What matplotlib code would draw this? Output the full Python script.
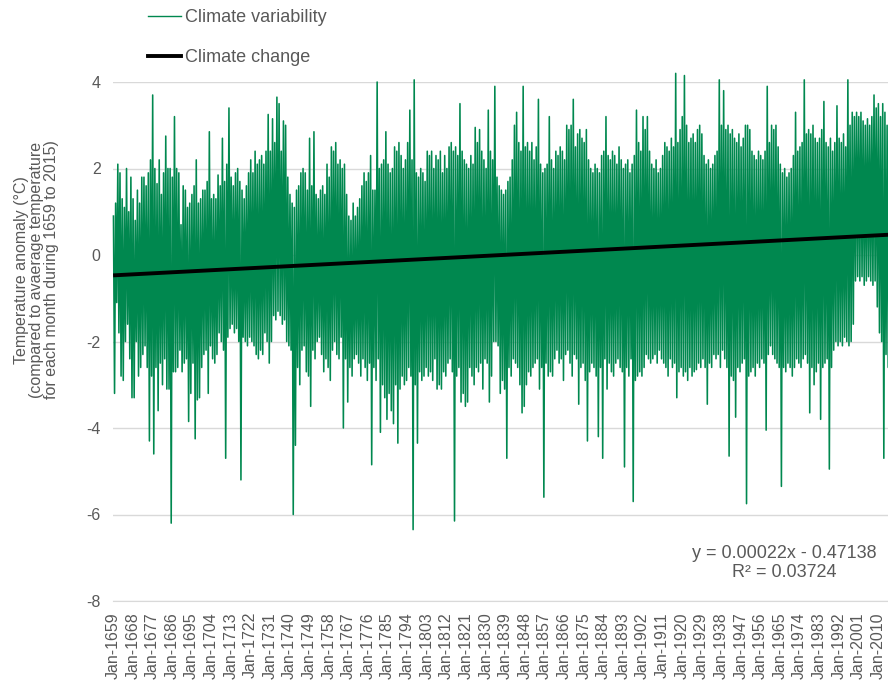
"""Monthly temperature anomaly 1659-2015 (climate variability) with the linear trend (climate change)."""
import numpy as np
import matplotlib.pyplot as plt
from matplotlib.lines import Line2D

plt.rcParams['font.family'] = ['Liberation Sans', 'DejaVu Sans']
plt.rcParams['axes.unicode_minus'] = False

first_year = 1659
last_year = 2015

# upper / lower extremes of the monthly anomaly in each year (deg C)
# one row per 9 years (= one x tick label)
year_high = [
    0.9, 1.2, 2.1, 1.9, 1.3, 1.1, 2.0, 1.0, 1.8,      # 1659
    1.3, 0.8, 1.5, 1.2, 1.8, 1.8, 1.6, 1.9, 2.2,      # 1668
    3.7, 2.0, 1.65, 2.2, 1.4, 1.9, 2.75, 2.0, 2.0,    # 1677
    1.8, 3.2, 2.0, 1.9, 0.7, 1.6, 1.5, 1.1, 1.2,      # 1686
    1.4, 1.6, 2.2, 1.2, 1.3, 1.5, 1.5, 1.7, 2.85,     # 1695
    1.3, 1.4, 1.3, 1.85, 1.6, 2.7, 1.7, 2.1, 3.4,     # 1704
    1.8, 1.6, 1.9, 2.0, 1.7, 1.5, 1.3, 1.6, 1.9,      # 1713
    2.2, 1.9, 2.4, 2.1, 2.2, 2.3, 2.1, 2.4, 3.25,     # 1722
    2.4, 3.15, 2.6, 3.65, 3.5, 2.4, 3.1, 3.0, 1.8,    # 1731
    1.4, 1.2, 1.1, 1.5, 1.6, 1.9, 2.0, 1.9, 1.5,      # 1740
    2.7, 1.6, 2.85, 1.4, 1.3, 1.5, 1.6, 1.4, 2.1,     # 1749
    1.8, 2.5, 2.4, 2.6, 2.1, 2.2, 2.0, 2.1, 1.4,      # 1758
    0.9, 0.8, 1.2, 0.9, 1.1, 1.3, 1.6, 1.9, 1.7,      # 1767
    1.9, 2.3, 1.5, 1.5, 4.0, 2.0, 2.1, 2.2, 2.85,     # 1776
    2.1, 1.9, 2.0, 2.5, 2.4, 2.6, 2.3, 2.0, 2.2,      # 1785
    2.6, 3.35, 2.2, 4.05, 1.9, 1.8, 2.0, 1.9, 1.7,    # 1794
    2.4, 2.3, 2.4, 2.0, 2.3, 2.2, 2.4, 1.9, 2.3,      # 1803
    2.0, 2.5, 2.6, 2.4, 2.5, 2.3, 3.5, 2.4, 2.2,      # 1812
    2.1, 2.0, 2.3, 2.1, 2.95, 2.6, 2.9, 2.4, 2.2,     # 1821
    2.0, 3.35, 2.4, 2.2, 3.9, 1.8, 1.6, 1.5, 1.4,     # 1830
    1.5, 1.7, 1.8, 2.2, 3.0, 3.3, 2.6, 2.4, 3.9,      # 1839
    2.5, 2.6, 2.4, 2.6, 2.2, 2.5, 3.6, 2.1, 1.9,      # 1848
    2.0, 2.1, 3.2, 2.2, 2.0, 2.4, 2.3, 2.5, 2.4,      # 1857
    2.2, 3.0, 2.9, 3.0, 3.6, 2.5, 2.8, 2.9, 2.7,      # 1866
    2.6, 2.9, 2.2, 2.0, 1.9, 2.1, 2.0, 1.9, 2.3,      # 1875
    2.4, 3.2, 2.3, 2.2, 2.4, 2.3, 2.1, 2.5, 2.2,      # 1884
    2.0, 2.1, 2.2, 1.9, 2.1, 2.3, 3.35, 2.6, 2.4,     # 1893
    3.2, 2.9, 3.2, 2.4, 2.1, 2.0, 2.2, 1.9, 2.0,      # 1902
    2.3, 2.6, 2.5, 2.4, 2.7, 2.5, 4.2, 2.6, 2.9,      # 1911
    3.2, 4.15, 3.0, 2.6, 2.7, 2.8, 2.6, 2.9, 3.0,     # 1920
    2.8, 2.3, 2.1, 2.2, 2.0, 2.1, 2.3, 2.4, 4.05,     # 1929
    3.0, 3.8, 2.9, 3.0, 2.8, 2.9, 2.7, 2.6, 2.8,      # 1938
    2.5, 2.7, 3.0, 3.0, 2.9, 2.4, 2.3, 2.2, 2.4,      # 1947
    2.3, 2.2, 2.4, 3.9, 2.6, 3.0, 2.9, 3.0, 2.5,      # 1956
    2.1, 1.9, 2.0, 1.8, 1.9, 2.0, 2.3, 3.3, 2.4,      # 1965
    2.5, 2.6, 4.05, 2.8, 2.9, 2.8, 3.0, 2.7, 2.6,     # 1974
    2.7, 2.9, 3.55, 2.6, 2.5, 2.7, 2.4, 2.6, 3.45,    # 1983
    2.7, 2.6, 2.8, 2.5, 4.05, 3.0, 3.3, 3.2, 3.3,     # 1992
    3.2, 3.3, 3.1, 3.0, 3.15, 3.0, 3.2, 3.7, 3.4,     # 2001
    3.5, 3.2, 3.5, 3.3, 3.0, 3.1,                     # 2010
]
year_low = [
    -3.2, -1.1, -1.8, -2.8, -2.9, -2.0, -1.6, -2.4, -3.3,     # 1659
    -3.3, -2.0, -2.8, -2.6, -2.3, -2.1, -2.6, -4.3, -2.8,     # 1668
    -4.6, -2.6, -3.6, -2.5, -3.0, -2.4, -3.1, -3.1, -6.2,     # 1677
    -2.7, -2.7, -2.6, -2.2, -2.7, -2.5, -2.4, -3.85, -3.2,    # 1686
    -2.5, -4.25, -3.35, -3.3, -2.6, -2.3, -2.2, -3.2, -2.1,   # 1695
    -2.4, -2.5, -2.3, -1.8, -2.0, -2.2, -4.7, -1.9, -1.7,     # 1704
    -1.6, -1.8, -1.7, -2.0, -5.2, -1.9, -2.0, -2.1, -1.9,     # 1713
    -2.0, -2.1, -2.3, -2.4, -2.2, -2.3, -1.8, -2.0, -2.5,     # 1722
    -2.0, -1.4, -1.5, -1.3, -1.4, -1.6, -1.5, -2.0, -2.1,     # 1731
    -2.2, -6.0, -4.4, -2.6, -3.0, -2.2, -2.1, -2.7, -2.8,     # 1740
    -3.5, -2.2, -2.4, -2.0, -1.9, -2.3, -2.7, -2.4, -2.6,     # 1749
    -2.9, -2.2, -2.0, -2.3, -2.4, -1.9, -4.0, -2.4, -3.4,     # 1758
    -2.6, -2.8, -2.4, -2.3, -2.5, -2.8, -2.4, -2.6, -2.9,     # 1767
    -2.5, -4.85, -2.6, -2.9, -2.4, -4.1, -3.0, -3.3, -3.8,    # 1776
    -3.2, -3.6, -3.9, -3.0, -4.35, -3.1, -2.8, -3.0, -2.9,    # 1785
    -2.6, -2.8, -6.35, -3.0, -4.35, -2.7, -2.9, -2.8, -2.6,   # 1794
    -2.8, -2.7, -2.9, -2.4, -3.1, -3.0, -3.1, -2.7, -2.8,     # 1803
    -2.5, -2.4, -2.7, -6.15, -2.8, -2.6, -3.4, -3.2, -3.5,    # 1812
    -3.4, -2.6, -2.8, -3.0, -2.6, -2.7, -2.5, -3.1, -2.4,     # 1821
    -2.5, -3.4, -2.8, -2.0, -2.0, -2.1, -3.2, -2.9, -3.1,     # 1830
    -4.7, -2.6, -2.8, -2.4, -2.5, -2.6, -3.0, -3.65, -3.5,    # 1839
    -3.0, -2.7, -2.8, -2.6, -2.5, -2.4, -3.1, -2.6, -5.6,     # 1848
    -2.5, -2.8, -2.7, -2.8, -2.4, -2.2, -2.5, -2.4, -2.9,     # 1857
    -2.3, -2.2, -2.5, -2.8, -2.3, -2.4, -3.45, -2.6, -2.5,    # 1866
    -2.9, -4.3, -2.7, -2.5, -2.6, -2.8, -4.2, -2.6, -4.7,     # 1875
    -2.4, -3.1, -2.5, -2.7, -2.8, -2.5, -2.4, -2.6, -2.7,     # 1884
    -4.9, -2.6, -2.8, -2.4, -5.7, -2.9, -2.8, -2.7, -2.8,     # 1893
    -2.6, -2.3, -2.4, -2.5, -2.4, -2.3, -2.5, -2.2, -2.4,     # 1902
    -2.5, -2.6, -2.8, -2.4, -2.6, -2.5, -3.3, -2.7, -2.6,     # 1911
    -2.8, -2.7, -2.9, -2.6, -2.8, -2.7, -2.65, -2.5, -2.6,    # 1920
    -2.4, -2.6, -3.45, -2.5, -2.6, -2.3, -2.4, -2.3, -2.6,    # 1929
    -2.2, -2.4, -2.6, -4.65, -2.8, -2.9, -3.75, -2.6, -2.7,   # 1938
    -2.5, -2.4, -5.75, -2.8, -2.7, -2.6, -2.8, -2.5, -2.6,    # 1947
    -2.4, -2.5, -4.05, -2.3, -2.1, -2.3, -2.4, -2.5, -2.6,    # 1956
    -5.35, -2.6, -2.7, -2.5, -2.6, -2.8, -2.6, -2.4, -2.5,    # 1965
    -2.6, -2.4, -2.3, -2.5, -3.65, -2.6, -3.0, -2.7, -2.5,    # 1974
    -3.8, -2.6, -2.5, -2.4, -4.95, -2.6, -2.2, -2.0, -2.1,    # 1983
    -2.0, -2.1, -1.9, -2.0, -2.1, -2.0, -1.6, -0.6, -0.5,     # 1992
    -0.6, -0.5, -0.7, -0.6, -0.5, -0.6, -0.7, -0.6, -1.2,     # 2001
    -1.8, -2.0, -4.7, -2.3, -2.6, -2.2,                       # 2010
]

# linear trend fitted over the month index (Excel trendline)
trend_slope = 0.00022
trend_intercept = -0.47138
r_squared = 0.03724

tick_years = list(range(1659, 2011, 9))
y_ticks = [-8, -6, -4, -2, 0, 2, 4]

n_years = last_year - first_year + 1
n_months = n_years * 12
assert len(year_high) == n_years and len(year_low) == n_years

# monthly axis: upper extreme early in the year, lower extreme later in it
yr = np.arange(n_years)
x_series = np.ravel(np.column_stack([yr * 12 + 3, yr * 12 + 9]))
y_series = np.ravel(np.column_stack([year_high, year_low]))

W, H = 888, 684
fig = plt.figure(figsize=(W / 100, H / 100), dpi=100)
ax = fig.add_axes([113 / W, (H - 601) / H, (891 - 113) / W, (601 - 82) / H])

green = '#00884f'
grey = '#595959'

ax.plot(x_series, y_series, color=green, lw=1.15, clip_on=False, zorder=2)

trend_x = np.array([1, n_months])
ax.plot(trend_x, trend_slope * trend_x + trend_intercept, color='black', lw=2.8,
        solid_capstyle='butt', zorder=3)

ax.set_xlim(0.5, n_months + 0.5)
ax.set_ylim(-8, 4)
ax.set_yticks(y_ticks)
ax.set_yticklabels([str(v) for v in y_ticks])
ax.set_xticks([(y - first_year) * 12 + 1 for y in tick_years])
ax.set_xticklabels([f'Jan-{y}' for y in tick_years], rotation=90, va='top')

ax.yaxis.grid(True, color='#d9d9d9', lw=1)
ax.set_axisbelow(True)
for side in ['left', 'right', 'top']:
    ax.spines[side].set_visible(False)
ax.spines['bottom'].set_color('#d9d9d9')
ax.tick_params(axis='y', length=0, pad=9, labelsize=11.5, labelcolor=grey)
ax.tick_params(axis='x', length=0, pad=8, labelsize=11.5, labelcolor=grey)

fig.text(37 / W, 1 - 270 / H,
         'Temperature anomaly (°C)\n(compared to avaerage temperature\nfor each month during 1659 to 2015)',
         rotation=90, ha='center', va='center', multialignment='center',
         fontsize=11.5, color=grey, linespacing=1.0)

fig.text(784 / W, 1 - 563 / H,
         f'y = {trend_slope:.5f}x - {abs(trend_intercept):.5f}\nR² = {r_squared:.5f}',
         ha='center', va='center', multialignment='center',
         fontsize=13, color=grey, linespacing=1.12)

handles = [Line2D([], [], color=green, lw=1),
           Line2D([], [], color='black', lw=2.8)]
fig.legend(handles, ['Climate variability', 'Climate change'],
           loc='upper left', bbox_to_anchor=(148 / W, 1 - 9 / H),
           frameon=False, fontsize=13, labelcolor=grey,
           handlelength=1.8, handletextpad=0.25, labelspacing=1.3,
           borderpad=0, borderaxespad=0)

fig.savefig('out.png', dpi=100)
